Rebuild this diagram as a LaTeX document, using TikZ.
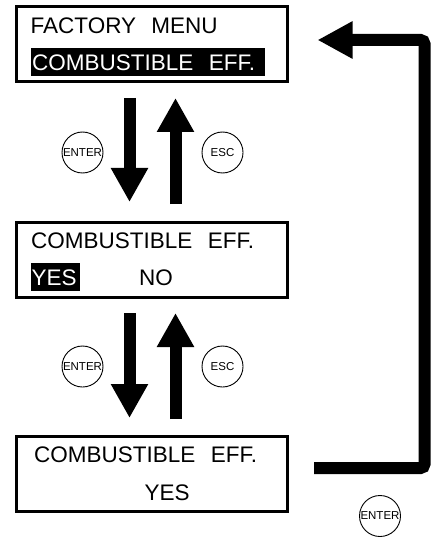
\documentclass[tikz,border=0pt]{standalone}
\usepackage{fontspec}
\setmainfont{Liberation Sans}
\usetikzlibrary{arrows.meta}
\tikzset{
  screen/.style={draw, line width=3pt, minimum width=271pt, minimum height=75pt, inner sep=0pt},
  lcd/.style={anchor=base west, inner sep=0pt, font=\fontsize{22.5}{27}\selectfont},
  lcdinv/.style={lcd, text=white},
  hilite/.style={fill=black},
  key/.style={draw, circle, line width=0.9pt, minimum size=41pt, inner sep=0pt, font=\fontsize{11.5}{13}\selectfont},
  bigarrow/.style={line width=12pt, -{Triangle[width=35pt,length=34pt]}},
  looparrow/.style={line width=12pt, rounded corners=4pt, -{Triangle[width=35pt,length=35pt]}}
}
\newcommand{\gap}{\hspace{0.68em}}
\begin{document}
\begin{tikzpicture}[x=1pt,y=-1pt]
\useasboundingbox (0,0) rectangle (433,537);
% screens
\node[screen] (s1) at (152,44) {};
\node[screen] (s2) at (152,259.5) {};
\node[screen] (s3) at (152,473.5) {};
% screen 1 texts
\node[lcd] (t1a) at (30.5,33.3) {FACTORY\gap MENU};
\fill[hilite] (30.7,48.3) rectangle (265,76);
\node[lcdinv] (t1b) at (32,70.8) {COMBUSTIBLE\gap EFF.};
% screen 2 texts
\node[lcd] (t2a) at (31,248) {COMBUSTIBLE\gap EFF.};
\fill[hilite] (31,263) rectangle (80,291);
\node[lcdinv] (t2b) at (31.5,285) {YES};
\node[lcd] (t2c) at (139,285) {NO};
% screen 3 texts
\node[lcd] (t3a) at (34,462) {COMBUSTIBLE\gap EFF.};
\node[lcd] (t3b) at (144.5,500) {YES};
% arrow end points
\coordinate (d1a) at (129.5,98);
\coordinate (d1b) at (129.5,202);
\coordinate (u1a) at (175.5,204);
\coordinate (u1b) at (175.5,98);
\coordinate (d2a) at (129.5,313);
\coordinate (d2b) at (129.5,418);
\coordinate (u2a) at (175.5,419);
\coordinate (u2b) at (175.5,313);
\draw[bigarrow] (d1a) -- (d1b);
\draw[bigarrow] (u1a) -- (u1b);
\draw[bigarrow] (d2a) -- (d2b);
\draw[bigarrow] (u2a) -- (u2b);
% loop arrow
\coordinate (la) at (314,468);
\coordinate (lc1) at (424.5,468);
\coordinate (lc2) at (424.5,40);
\coordinate (lb) at (317.5,40);
\draw[looparrow] (la) -- (lc1) -- (lc2) -- (lb);
% keys
\node[key] (k1) at (82.5,152.5) {ENTER};
\node[key] (k2) at (222.5,152.5) {ESC};
\node[key] (k3) at (82.5,366.5) {ENTER};
\node[key] (k4) at (222.5,366.5) {ESC};
\node[key] (k5) at (380,516) {ENTER};
\end{tikzpicture}
\end{document}
